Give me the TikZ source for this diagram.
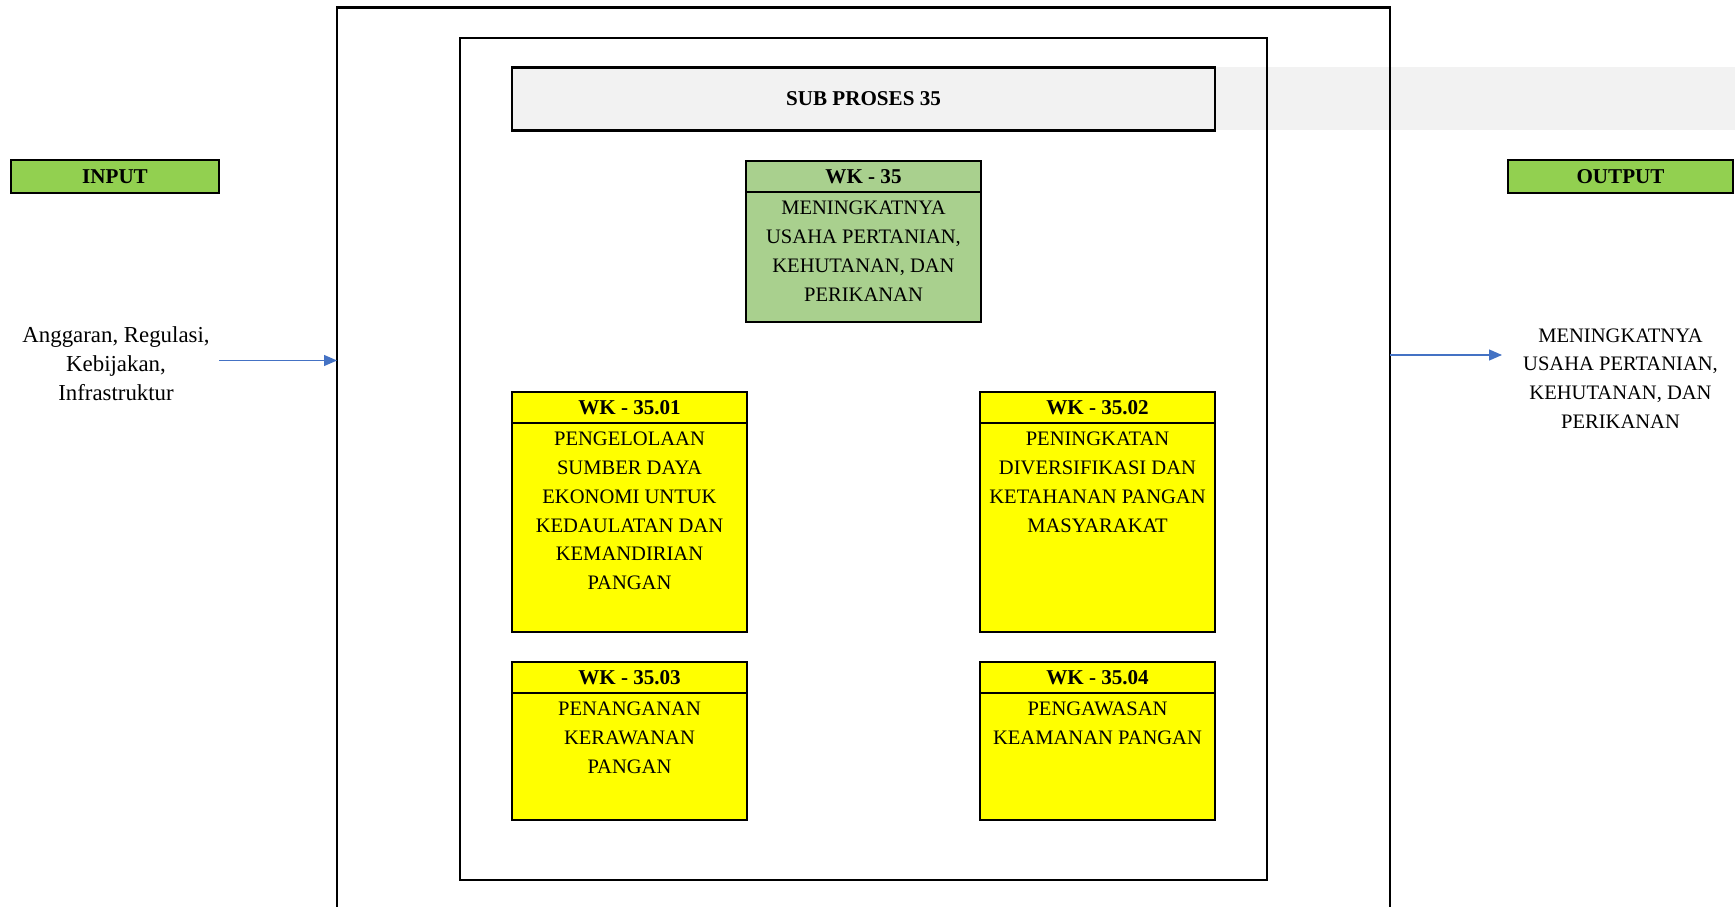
\documentclass[tikz,border=0pt]{standalone}
\usepackage{fontspec}
\setmainfont{Liberation Serif}
\usetikzlibrary{positioning,arrows.meta}
\definecolor{tagGreen}{HTML}{92D050}
\definecolor{wkGreen}{HTML}{A9D08E}
\definecolor{wkYellow}{HTML}{FFFF00}
\definecolor{barGray}{HTML}{F2F2F2}
\definecolor{flowBlue}{HTML}{4472C4}

\begin{document}
\begin{tikzpicture}[
  font=\fontsize{11.7}{16.4}\selectfont,
  every node/.style={inner sep=0pt, outer sep=0pt},
  frame/.style={draw, line width=1.3pt},
  tag/.style={frame, fill=tagGreen, minimum height=0.66cm, font=\fontsize{12}{14}\selectfont\bfseries},
  wkhead/.style={frame, minimum width=4.7cm, minimum height=0.62cm, font=\fontsize{12}{14}\selectfont\bfseries},
  wkbody/.style={frame, minimum width=4.7cm},
  wktext/.style={anchor=north, yshift=-0.18cm, align=center},
  flow/.style={-{Triangle[length=0.26cm,width=0.22cm]}, draw=flowBlue, line width=0.7pt}
]
  \useasboundingbox (0,0) rectangle (34.7,-18.14);

  % grey band behind the title bar
  \fill[barGray] (10.24,-1.35) rectangle (34.7,-2.61);
  \draw[frame, line width=1.5pt] (6.74,-18.4) |- (27.8,-0.155) -- (27.8,-18.4);
  \draw[frame, line width=1.2pt] (9.2,-0.76) rectangle (25.34,-17.6);
  \node[frame, fill=barGray, minimum width=14.06cm, minimum height=1.26cm, font=\fontsize{12}{14}\selectfont\bfseries] (subp) at (17.27,-1.98) {SUB PROSES 35};

  \node[tag, minimum width=4.16cm] (input) at (2.3,-3.53) {INPUT};
  \node[tag, minimum width=4.5cm] (output) at (32.41,-3.53) {OUTPUT};

  \node[wkhead, fill=wkGreen] (wk35h) at (17.27,-3.53) {WK - 35};
  \node[wkbody, fill=wkGreen, minimum height=2.6cm, below=0pt of wk35h] (wk35) {};
  \node[wktext] at (wk35.north) {MENINGKATNYA\\USAHA PERTANIAN,\\KEHUTANAN, DAN\\PERIKANAN};

  \node[wkhead, fill=wkYellow] (wk01h) at (12.59,-8.15) {WK - 35.01};
  \node[wkbody, fill=wkYellow, minimum height=4.18cm, below=0pt of wk01h] (wk01) {};
  \node[wktext] at (wk01.north) {PENGELOLAAN\\SUMBER DAYA\\EKONOMI UNTUK\\KEDAULATAN DAN\\KEMANDIRIAN\\PANGAN};

  \node[wkhead, fill=wkYellow] (wk02h) at (21.95,-8.15) {WK - 35.02};
  \node[wkbody, fill=wkYellow, minimum height=4.18cm, below=0pt of wk02h] (wk02) {};
  \node[wktext] at (wk02.north) {PENINGKATAN\\DIVERSIFIKASI DAN\\KETAHANAN PANGAN\\MASYARAKAT};

  \node[wkhead, fill=wkYellow] (wk03h) at (12.59,-13.55) {WK - 35.03};
  \node[wkbody, fill=wkYellow, minimum height=2.54cm, below=0pt of wk03h] (wk03) {};
  \node[wktext] at (wk03.north) {PENANGANAN\\KERAWANAN\\PANGAN};

  \node[wkhead, fill=wkYellow] (wk04h) at (21.95,-13.55) {WK - 35.04};
  \node[wkbody, fill=wkYellow, minimum height=2.54cm, below=0pt of wk04h] (wk04) {};
  \node[wktext] at (wk04.north) {PENGAWASAN\\KEAMANAN PANGAN};

  \node[align=center, font=\fontsize{13}{16.4}\selectfont] (intext) at (2.32,-7.28) {Anggaran, Regulasi,\\Kebijakan,\\Infrastruktur};
  \node[align=center] (outtext) at (32.41,-7.57) {MENINGKATNYA\\USAHA PERTANIAN,\\KEHUTANAN, DAN\\PERIKANAN};

  \coordinate (inL) at (6.74,-7.21);
  \coordinate (outR) at (27.8,-7.1);
  \draw[flow] (input.east |- inL) -- (inL);
  \draw[flow, shorten >=0.12cm] (outR) -- (outR -| output.west);
\end{tikzpicture}
\end{document}
